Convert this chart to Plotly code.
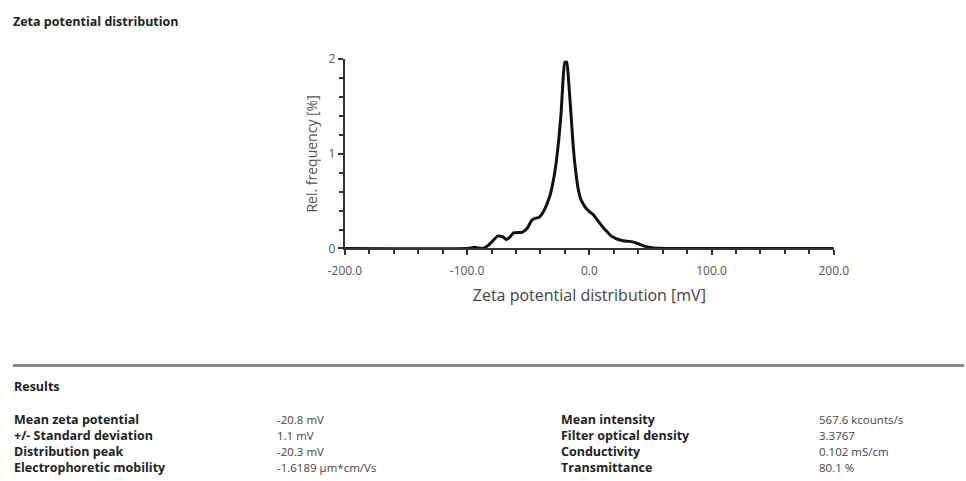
import plotly.graph_objects as go

# ---- data ----
zeta_mv = [-200, -100, -97, -94, -91, -87, -83, -79, -75, -71, -68, -65, -62, -58, -55, -51,
           -47, -44, -41, -38, -35, -32, -29, -27, -25, -23, -21.5, -20, -18.5, -17, -15, -13,
           -11, -9, -7, -5, -3, 0, 3, 6, 9, 12, 15, 18, 21, 25, 29, 33, 37, 41, 45, 50, 56, 200]
rel_freq = [0, 0, 0.005, 0.012, 0.004, 0, 0.03, 0.08, 0.13, 0.125, 0.095, 0.12, 0.165, 0.17, 0.17, 0.21,
            0.30, 0.32, 0.33, 0.38, 0.46, 0.57, 0.75, 0.92, 1.15, 1.45, 1.78, 1.97, 1.97, 1.78, 1.42, 1.05,
            0.8, 0.62, 0.52, 0.47, 0.43, 0.39, 0.36, 0.31, 0.26, 0.21, 0.17, 0.13, 0.11, 0.09, 0.08, 0.075,
            0.065, 0.045, 0.025, 0.01, 0.003, 0]
x_tick_vals = [-200, -100, 0, 100, 200]
x_tick_text = ["-200.0", "-100.0", "0.0", "100.0", "200.0"]
y_tick_vals = [0, 1, 2]
y_tick_text = ["0", "1", "2"]

results_left_labels = ["Mean zeta potential", "+/- Standard deviation", "Distribution peak", "Electrophoretic mobility"]
results_left_values = ["-20.8 mV", "1.1 mV", "-20.3 mV", "-1.6189 µm*cm/Vs"]
results_right_labels = ["Mean intensity", "Filter optical density", "Conductivity", "Transmittance"]
results_right_values = ["567.6 kcounts/s", "3.3767", "0.102 mS/cm", "80.1 %"]

W, H = 966, 481
MX, MY = 13.0, 7.5   # empirical offset of the rendered paper area
FONT = "Open Sans"

def px(x):
    return (x - MX) / (W - 2 * MX)

def py(y):
    return 1 - (y - MY) / (H - 2 * MY)

fig = go.Figure()
fig.add_trace(go.Scatter(x=zeta_mv, y=rel_freq, mode="lines",
                         line=dict(color="#111111", width=3, shape="spline", smoothing=0.5),
                         cliponaxis=False, showlegend=False, hoverinfo="skip"))

axis_color = "#333333"
fig.update_layout(
    width=W, height=H, margin=dict(l=0, r=0, t=0, b=0),
    paper_bgcolor="white", plot_bgcolor="white",
    font=dict(family=FONT, color="#444444"),
    xaxis=dict(domain=[px(343), px(835)], range=[-200, 200], showgrid=False, zeroline=False,
               showline=True, linecolor=axis_color, linewidth=2,
               tickvals=x_tick_vals, ticktext=x_tick_text, ticks="outside", ticklen=5,
               tickwidth=2, tickcolor=axis_color, tickfont=dict(size=12, color="#555555"),
               ticklabelstandoff=5,
               minor=dict(dtick=20, tick0=0, ticks="outside", ticklen=4, tickwidth=2, tickcolor=axis_color),
               title=dict(text="Zeta potential distribution [mV]", font=dict(size=16, color="#444444"),
                          standoff=12)),
    yaxis=dict(domain=[py(248), py(58)], range=[0, 2], showgrid=False, zeroline=False,
               showline=True, linecolor=axis_color, linewidth=2,
               tickvals=y_tick_vals, ticktext=y_tick_text, ticks="outside", ticklen=5,
               tickwidth=2, tickcolor=axis_color, tickfont=dict(size=12, color="#555555"),
               minor=dict(dtick=0.2, tick0=0, ticks="outside", ticklen=4, tickwidth=2, tickcolor=axis_color),
               title=dict(text="Rel. frequency [%]", font=dict(size=14, color="#555555"), standoff=8)),
)

ann = []
LBL = 12.5
VAL = 11.5
ann.append(dict(text="<b>Zeta potential distribution</b>", x=px(7), y=py(20), xanchor="left", yanchor="middle",
                font=dict(size=12.5, color="#222222")))
ann.append(dict(text="<b>Results</b>", x=px(8), y=py(387), xanchor="left", yanchor="middle",
                font=dict(size=LBL, color="#222222")))
row_y = [420, 436, 452, 468]
for i, yy in enumerate(row_y):
    ann.append(dict(text="<b>" + results_left_labels[i] + "</b>", x=px(8), y=py(yy), xanchor="left",
                    yanchor="middle", font=dict(size=LBL, color="#222222")))
    ann.append(dict(text=results_left_values[i], x=px(273), y=py(yy), xanchor="left",
                    yanchor="middle", font=dict(size=VAL, color="#444444")))
    ann.append(dict(text="<b>" + results_right_labels[i] + "</b>", x=px(558), y=py(yy), xanchor="left",
                    yanchor="middle", font=dict(size=LBL, color="#222222")))
    ann.append(dict(text=results_right_values[i], x=px(818), y=py(yy), xanchor="left",
                    yanchor="middle", font=dict(size=VAL, color="#444444")))
for a in ann:
    a.update(xref="paper", yref="paper", showarrow=False)
fig.update_layout(annotations=ann)

fig.add_shape(type="line", xref="paper", yref="paper", x0=px(9), x1=px(966), y0=py(365.5), y1=py(365.5),
              line=dict(color="#8a8a8a", width=3))

fig.write_html("out.html")
